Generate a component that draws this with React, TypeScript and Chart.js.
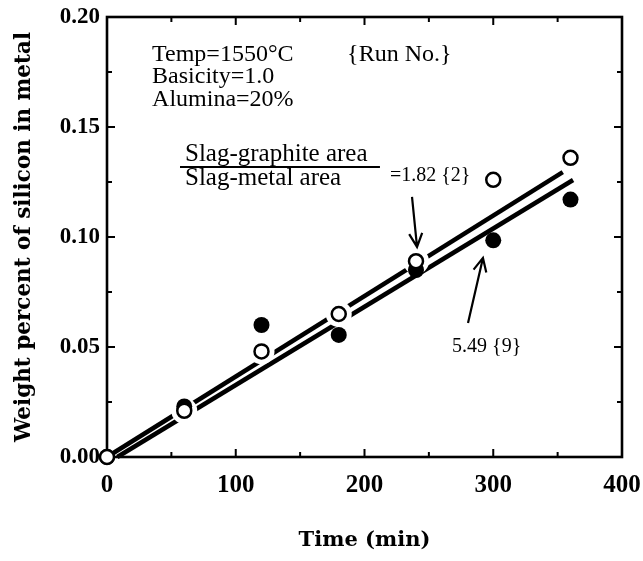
import React, { useEffect, useRef } from 'react';
import { Chart, registerables } from 'chart.js';

Chart.register(...registerables);

// ---- data ----
const xTickValues = [0, 100, 200, 300, 400];
const yTickValues = [0, 0.05, 0.1, 0.15, 0.2];
const yTickLabels = ['0.00', '0.05', '0.10', '0.15', '0.20'];

// Run 2: slag-graphite / slag-metal area = 1.82 (open circles)
const run2Time = [0, 60, 120, 180, 240, 300, 360];
const run2Si = [0.0, 0.021, 0.048, 0.065, 0.089, 0.126, 0.136];
// Run 9: ratio = 5.49 (filled circles)
const run9Time = [0, 60, 120, 180, 240, 300, 360];
const run9Si = [0.0, 0.023, 0.06, 0.0555, 0.085, 0.0985, 0.117];

// fitted straight lines (end points)
const run2FitTime = [0, 354];
const run2FitSi = [0, 0.1295];
const run9FitTime = [8, 362];
const run9FitSi = [0, 0.1259];

const conditionLines = ['Temp=1550°C', 'Basicity=1.0', 'Alumina=20%'];
const runLabel = '{Run No.}';
const ratioTop = 'Slag-graphite area';
const ratioBottom = 'Slag-metal area';
const run2Label = '=1.82 {2}';
const run9Label = '5.49 {9}';

const toPoints = (xs: number[], ys: number[]) => xs.map((x, i) => ({ x, y: ys[i] }));

const frameTicks = {
  id: 'frameTicks',
  beforeDatasetsDraw(chart: any) {
    const { ctx, chartArea: a, scales } = chart;
    const x = scales.x;
    const y = scales.y;
    ctx.save();
    ctx.strokeStyle = '#000';
    ctx.lineWidth = 2.6;
    ctx.strokeRect(a.left, a.top, a.right - a.left, a.bottom - a.top);
    ctx.lineWidth = 2;
    ctx.beginPath();
    for (let i = 0; i <= 8; i++) {
      const v = i * 50;
      const px = x.getPixelForValue(v);
      const len = i % 2 === 0 ? 8 : 5;
      ctx.moveTo(px, a.bottom);
      ctx.lineTo(px, a.bottom - len);
      ctx.moveTo(px, a.top);
      ctx.lineTo(px, a.top + len);
    }
    for (let i = 0; i <= 8; i++) {
      const v = i * 0.025;
      const py = y.getPixelForValue(v);
      const len = i % 2 === 0 ? 8 : 5;
      ctx.moveTo(a.left, py);
      ctx.lineTo(a.left + len, py);
      ctx.moveTo(a.right, py);
      ctx.lineTo(a.right - len, py);
    }
    ctx.stroke();
    ctx.restore();
  },
};

function arrow(ctx: any, x0: number, y0: number, x1: number, y1: number) {
  const ang = Math.atan2(y1 - y0, x1 - x0);
  const head = 15;
  const spread = 0.45;
  ctx.beginPath();
  ctx.moveTo(x0, y0);
  ctx.lineTo(x1, y1);
  ctx.moveTo(x1 - head * Math.cos(ang - spread), y1 - head * Math.sin(ang - spread));
  ctx.lineTo(x1, y1);
  ctx.lineTo(x1 - head * Math.cos(ang + spread), y1 - head * Math.sin(ang + spread));
  ctx.stroke();
}

const annotations = {
  id: 'annotations',
  afterDatasetsDraw(chart: any) {
    const { ctx, scales } = chart;
    const X = (v: number) => scales.x.getPixelForValue(v);
    const Y = (v: number) => scales.y.getPixelForValue(v);
    ctx.save();
    ctx.fillStyle = '#000';
    ctx.strokeStyle = '#000';
    ctx.textBaseline = 'alphabetic';
    ctx.textAlign = 'left';
    ctx.font = '24px "Liberation Serif"';
    const condY = [0.18, 0.17, 0.1595];
    conditionLines.forEach((t, i) => ctx.fillText(t, X(35), Y(condY[i])));
    ctx.fillText(runLabel, X(186.5), Y(0.18));

    ctx.font = '25px "Liberation Serif"';
    ctx.fillText(ratioTop, X(60.6), Y(0.1347));
    ctx.fillText(ratioBottom, X(60.6), Y(0.1236));
    ctx.lineWidth = 2;
    ctx.beginPath();
    ctx.moveTo(X(56.7), Y(0.1318));
    ctx.lineTo(X(212), Y(0.1318));
    ctx.stroke();

    ctx.font = '20px "Liberation Serif"';
    ctx.fillText(run2Label, X(219.8), Y(0.1255));
    ctx.fillText(run9Label, X(268), Y(0.0477));

    ctx.lineWidth = 2.2;
    arrow(ctx, X(236.9), Y(0.1182), X(240.8), Y(0.0955));
    arrow(ctx, X(280.4), Y(0.0609), X(292), Y(0.0905));
    ctx.restore();
  },
};

export default function App() {
  const ref = useRef<HTMLCanvasElement | null>(null);

  useEffect(() => {
    if (!ref.current) return;
    const run2 = toPoints(run2Time, run2Si);
    const run9 = toPoints(run9Time, run9Si);
    const chart = new Chart(ref.current, {
      type: 'scatter',
      data: {
        datasets: [
          {
            label: 'fit 1.82',
            data: toPoints(run2FitTime, run2FitSi),
            showLine: true,
            borderColor: '#000',
            borderWidth: 4.5,
            pointRadius: 0,
            fill: false,
            order: 5,
            clip: false,
          },
          {
            label: 'fit 5.49',
            data: toPoints(run9FitTime, run9FitSi),
            showLine: true,
            borderColor: '#000',
            borderWidth: 4.5,
            pointRadius: 0,
            fill: false,
            order: 4,
            clip: false,
          },
          {
            label: 'gap',
            data: run2,
            pointRadius: (c: any) => (c.raw && c.raw.x === 0 ? 0 : 13),
            pointBackgroundColor: '#fff',
            pointBorderWidth: 0,
            pointBorderColor: '#fff',
            order: 3,
            clip: false,
          },
          {
            label: '5.49 {9}',
            data: run9,
            pointRadius: 8,
            pointBackgroundColor: '#000',
            pointBorderColor: '#000',
            pointBorderWidth: 0,
            order: 2,
            clip: false,
          },
          {
            label: '1.82 {2}',
            data: run2,
            pointRadius: 7,
            pointBackgroundColor: '#fff',
            pointBorderColor: '#000',
            pointBorderWidth: 2.5,
            order: 1,
            clip: false,
          },
        ],
      },
      options: {
        animation: false,
        responsive: false,
        devicePixelRatio: 1,
        layout: { padding: { top: 17, right: 21, left: 0, bottom: 0 } },
        plugins: { legend: { display: false }, tooltip: { enabled: false } },
        scales: {
          x: {
            type: 'linear',
            position: 'bottom',
            min: 0,
            max: 400,
            afterFit: (s: any) => {
              s.height = 104;
              s.paddingLeft = 0;
              s.paddingRight = 0;
            },
            afterBuildTicks: (s: any) => {
              s.ticks = xTickValues.map((v) => ({ value: v }));
            },
            ticks: {
              color: '#000',
              padding: 14,
              maxRotation: 0,
              font: { family: 'Liberation Serif', weight: 'bold', size: 25 },
              callback: (v: any) => String(v),
            },
            grid: { display: false, drawTicks: false },
            border: { display: false },
            title: {
              display: true,
              text: 'Time (min)',
              color: '#000',
              font: { family: 'DejaVu Serif', weight: 'bold', size: 21 },
              padding: { top: 0, bottom: 8 },
            },
          },
          y: {
            type: 'linear',
            min: 0,
            max: 0.2,
            afterFit: (s: any) => {
              s.width = 107;
              s.paddingTop = 0;
              s.paddingBottom = 0;
            },
            afterBuildTicks: (s: any) => {
              s.ticks = yTickValues.map((v) => ({ value: v }));
            },
            ticks: {
              color: '#000',
              padding: 7,
              font: { family: 'Liberation Serif', weight: 'bold', size: 23 },
              callback: (v: any, i: number) => yTickLabels[i],
            },
            grid: { display: false, drawTicks: false },
            border: { display: false },
            title: {
              display: true,
              text: 'Weight percent of silicon in metal',
              color: '#000',
              font: { family: 'DejaVu Serif', weight: 'bold', size: 21.5 },
              padding: { top: 12, bottom: 0 },
            },
          },
        },
      },
      plugins: [frameTicks, annotations],
    } as any);
    return () => chart.destroy();
  }, []);

  return (
    <div style={{ position: 'fixed', left: 0, top: 0, width: 643, height: 561, background: '#fff' }}>
      <canvas ref={ref} width={643} height={561} style={{ display: 'block' }} />
    </div>
  );
}
